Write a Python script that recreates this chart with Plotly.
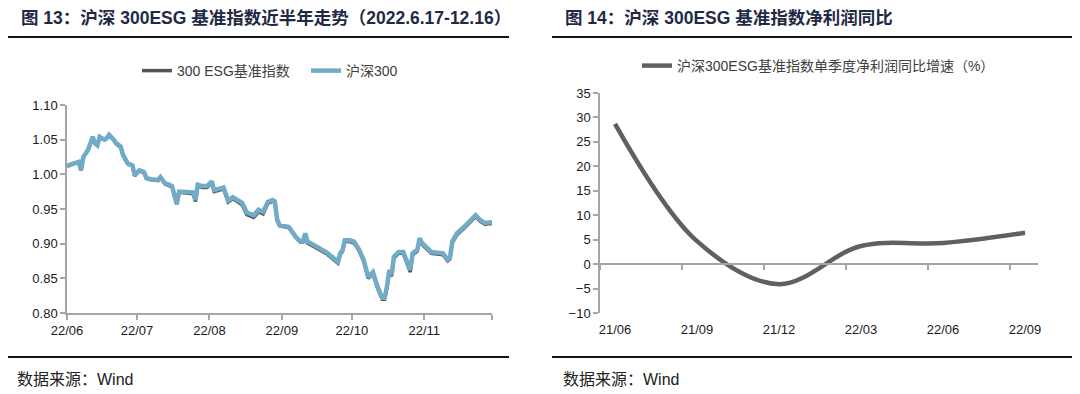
import plotly.graph_objects as go
import pandas as pd

# ---------------- Left chart data (2022.6.17 - 12.16) ----------------
start_date = "2022-06-17"
day_offsets = [0, 2, 5, 6, 7, 9, 11, 12, 13, 14,
               16, 17, 18, 20, 21, 23, 24, 26, 28, 29,
               31, 33, 34, 36, 39, 40, 42, 44, 45, 46,
               47, 48, 51, 54, 55, 56, 58, 60, 62, 63,
               65, 67, 68, 69, 71, 73, 75, 77, 80, 82,
               84, 86, 88, 89, 90, 91, 94, 95, 98, 100,
               101, 102, 103, 107, 111, 116, 117, 118, 119, 121,
               123, 125, 127, 129, 131, 133, 135, 136, 137, 138,
               139, 140, 142, 144, 146, 147, 148, 150, 151, 152,
               156, 159, 161, 163, 164, 165, 167, 170, 172, 173,
               175, 177, 179, 182]
hs300 = [1.012, 1.015, 1.018, 1.006, 1.025, 1.035, 1.054, 1.045, 1.042, 1.054,
         1.050, 1.052, 1.057, 1.050, 1.045, 1.040, 1.028, 1.016, 1.013, 0.999,
         1.006, 1.003, 0.995, 0.993, 0.992, 0.996, 0.987, 0.985, 0.983, 0.970,
         0.957, 0.975, 0.975, 0.974, 0.963, 0.985, 0.983, 0.983, 0.990, 0.977,
         0.979, 0.981, 0.972, 0.962, 0.967, 0.962, 0.959, 0.945, 0.941, 0.949,
         0.946, 0.960, 0.963, 0.961, 0.935, 0.927, 0.924, 0.924, 0.910, 0.903,
         0.903, 0.915, 0.903, 0.895, 0.888, 0.874, 0.886, 0.891, 0.905, 0.905,
         0.903, 0.892, 0.877, 0.852, 0.859, 0.838, 0.822, 0.822, 0.838, 0.862,
         0.855, 0.881, 0.888, 0.888, 0.869, 0.862, 0.886, 0.891, 0.908, 0.901,
         0.888, 0.887, 0.886, 0.877, 0.880, 0.903, 0.915, 0.924, 0.931, 0.933,
         0.941, 0.934, 0.930, 0.931]
esg300 = [1.012, 1.015, 1.018, 1.006, 1.025, 1.035, 1.054, 1.045, 1.042, 1.054,
          1.050, 1.052, 1.057, 1.050, 1.044, 1.039, 1.027, 1.015, 1.012, 0.998,
          1.005, 1.002, 0.994, 0.992, 0.991, 0.995, 0.986, 0.984, 0.982, 0.969,
          0.957, 0.974, 0.973, 0.972, 0.961, 0.983, 0.981, 0.981, 0.988, 0.975,
          0.977, 0.979, 0.970, 0.960, 0.965, 0.960, 0.956, 0.942, 0.938, 0.946,
          0.943, 0.958, 0.961, 0.960, 0.934, 0.926, 0.923, 0.923, 0.909, 0.902,
          0.902, 0.913, 0.901, 0.893, 0.886, 0.872, 0.884, 0.889, 0.903, 0.903,
          0.901, 0.890, 0.875, 0.850, 0.857, 0.836, 0.820, 0.820, 0.836, 0.859,
          0.853, 0.879, 0.886, 0.886, 0.866, 0.859, 0.884, 0.889, 0.906, 0.899,
          0.886, 0.885, 0.884, 0.875, 0.878, 0.901, 0.913, 0.922, 0.929, 0.931,
          0.939, 0.932, 0.928, 0.929]
left_tick_dates = ["2022-06-17", "2022-07-17", "2022-08-17", "2022-09-17",
                   "2022-10-17", "2022-11-17", "2022-12-16"]
left_tick_text = ["22/06", "22/07", "22/08", "22/09", "22/10", "22/11", ""]

# ---------------- Right chart data ----------------
quarters = ["21/06", "21/09", "21/12", "22/03", "22/06", "22/09"]
profit_yoy = [28.7, 4.7, -4.1, 3.7, 4.3, 6.4]

dates = pd.Timestamp(start_date) + pd.to_timedelta(day_offsets, unit="D")
qpos = list(range(len(quarters)))

W, H = 1080, 394
OFF = 8  # page body margin
def px(x):
    return (x - OFF) / W
def py(y):
    return 1 - (y - OFF) / H

AXIS_COLOR = "#a6a6a6"
TICK_FONT = dict(family="Liberation Sans, Arial, sans-serif", size=13, color="#1a1a1a")
LEG_FONT = dict(family="Liberation Sans, Noto Sans CJK SC, sans-serif", size=14, color="#404040")

fig = go.Figure()
fig.add_trace(go.Scatter(x=dates, y=esg300, name="300 ESG基准指数", mode="lines",
                         line=dict(color="#555555", width=3.5),
                         xaxis="x", yaxis="y", legend="legend"))
fig.add_trace(go.Scatter(x=dates, y=hs300, name="沪深300", mode="lines",
                         line=dict(color="#72abc8", width=4.5),
                         xaxis="x", yaxis="y", legend="legend"))
fig.add_trace(go.Scatter(x=qpos, y=profit_yoy, name="沪深300ESG基准指数单季度净利润同比增速（%）",
                         mode="lines", line=dict(color="#606060", width=4.5, shape="spline", smoothing=1),
                         xaxis="x2", yaxis="y2", legend="legend2"))
# helper trace so the zero-line axis is drawn
fig.add_trace(go.Scatter(x=[None], y=[None], xaxis="x3", yaxis="y2", showlegend=False,
                         hoverinfo="skip"))

xr_lo = -15 / 82
xr_hi = (1038 - 615) / 82
zero_pos = py(313) + (10 / 45) * (py(93) - py(313))

fig.update_layout(
    width=W, height=H,
    margin=dict(l=0, r=0, t=0, b=0, autoexpand=False),
    paper_bgcolor="white", plot_bgcolor="white",
    showlegend=True,
    xaxis=dict(domain=[px(67), px(492)], type="date",
               range=[left_tick_dates[0], left_tick_dates[-1]],
               tickvals=left_tick_dates, ticktext=left_tick_text,
               ticks="outside", ticklen=5, tickcolor=AXIS_COLOR, tickwidth=1.5,
               showline=True, linecolor=AXIS_COLOR, linewidth=1.5,
               showgrid=False, zeroline=False, tickfont=TICK_FONT, anchor="y",
               automargin=False),
    yaxis=dict(domain=[py(313), py(105)], range=[0.80, 1.10], dtick=0.05,
               tickformat=".2f", ticks="outside", ticklen=5, tickcolor=AXIS_COLOR,
               tickwidth=1.5, showline=True, linecolor=AXIS_COLOR, linewidth=1.5,
               showgrid=False, zeroline=False, tickfont=TICK_FONT, anchor="x",
               automargin=False),
    xaxis2=dict(domain=[px(600), px(1038)], range=[xr_lo, xr_hi],
                tickvals=qpos, ticktext=quarters, ticks="outside", ticklen=4,
                tickcolor="rgba(0,0,0,0)",
                showline=False, showgrid=False, zeroline=False,
                tickfont=TICK_FONT, anchor="y2", automargin=False),
    xaxis3=dict(overlaying="x2", anchor="free", position=zero_pos,
                range=[xr_lo, xr_hi], tickvals=[xr_lo + k for k in range(6)],
                showticklabels=False, ticks="outside", ticklen=5,
                tickcolor=AXIS_COLOR, tickwidth=1.5,
                showline=True, linecolor=AXIS_COLOR, linewidth=1.5,
                showgrid=False, zeroline=False, automargin=False),
    yaxis2=dict(domain=[py(313), py(93)], range=[-10, 35], dtick=5,
                ticks="outside", ticklen=5, tickcolor=AXIS_COLOR, tickwidth=1.5,
                showline=True, linecolor=AXIS_COLOR, linewidth=1.5,
                showgrid=False, zeroline=False, tickfont=TICK_FONT, anchor="x2",
                automargin=False),
    legend=dict(orientation="h", x=px(137), y=py(71), xanchor="left", yanchor="middle",
                font=LEG_FONT, bgcolor="rgba(0,0,0,0)", itemwidth=30,
                entrywidth=124, entrywidthmode="pixels"),
    legend2=dict(orientation="h", x=px(637), y=py(66), xanchor="left", yanchor="middle",
                 font=LEG_FONT, bgcolor="rgba(0,0,0,0)", itemwidth=30),
)

TITLE_FONT = dict(family="Liberation Sans, Noto Sans CJK SC, sans-serif", size=17.5, color="#1f2a44")
SRC_FONT = dict(family="Liberation Sans, Noto Sans CJK SC, sans-serif", size=16, color="#222222")

fig.add_annotation(text="<b>图 13：沪深 300ESG 基准指数近半年走势（2022.6.17-12.16）</b>",
                   x=px(19), y=py(18), xref="paper", yref="paper",
                   xanchor="left", yanchor="middle", showarrow=False, font=TITLE_FONT)
fig.add_annotation(text="<b>图 14：沪深 300ESG 基准指数净利润同比</b>",
                   x=px(563), y=py(18), xref="paper", yref="paper",
                   xanchor="left", yanchor="middle", showarrow=False, font=TITLE_FONT)
fig.add_annotation(text="数据来源：Wind", x=px(15), y=py(379), xref="paper", yref="paper",
                   xanchor="left", yanchor="middle", showarrow=False, font=SRC_FONT)
fig.add_annotation(text="数据来源：Wind", x=px(561), y=py(379), xref="paper", yref="paper",
                   xanchor="left", yanchor="middle", showarrow=False, font=SRC_FONT)

for (x0, x1) in [(6, 509), (552, 1090)]:
    for yy in [37, 357]:
        fig.add_shape(type="line", xref="paper", yref="paper",
                      x0=px(x0), x1=px(x1), y0=py(yy), y1=py(yy),
                      line=dict(color="#111111", width=2))

fig.write_html("out.html")
